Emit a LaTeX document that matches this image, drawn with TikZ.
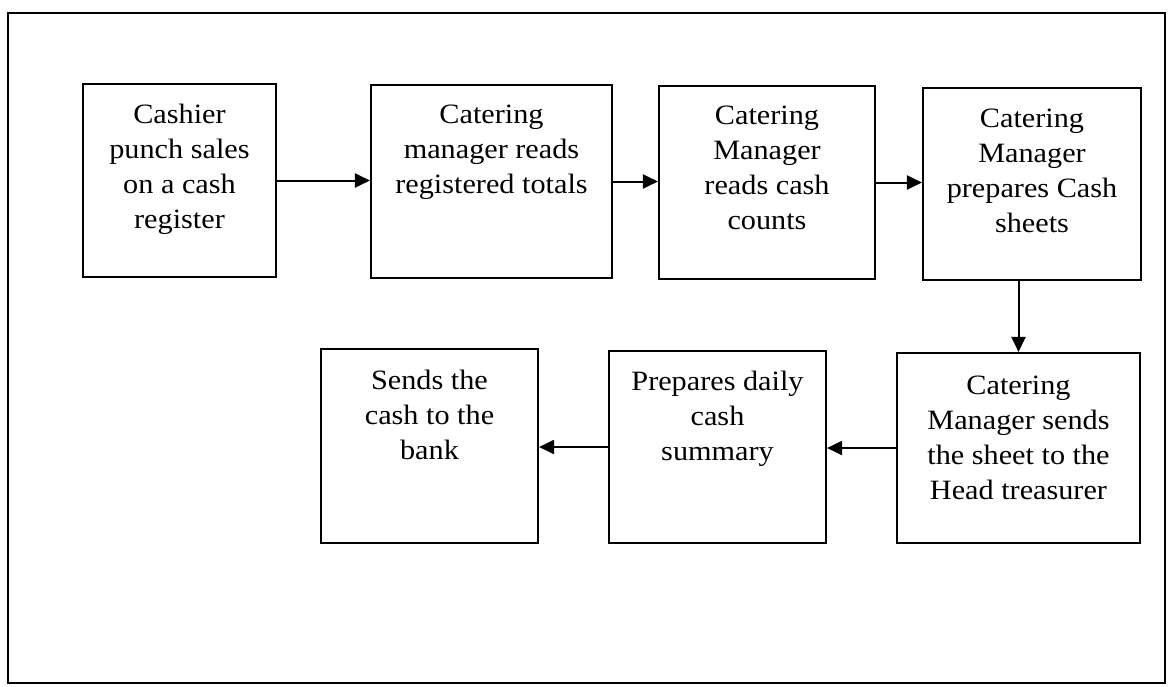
\documentclass[tikz,border=0pt]{standalone}
\usepackage{fontspec}
\setmainfont{Liberation Serif}
\usepackage{graphicx}
\usetikzlibrary{arrows.meta}
\newcommand{\boxtext}[1]{\scalebox{1.08}[1]{\fontsize{28}{35}\selectfont\begin{tabular}{@{}c@{}}#1\end{tabular}}}
\tikzset{
  stepbox/.style={draw=black, line width=2.1pt, rectangle, inner sep=0pt},
  boxlabel/.style={anchor=north, inner sep=0pt, text=black},
  flow/.style={line width=2pt, -{Triangle[length=15pt,width=14pt]}},
  frameline/.style={draw=black, line width=2pt}
}
\begin{document}
\begin{tikzpicture}[x=1pt,y=-1pt]
\useasboundingbox (0,0) rectangle (1172,686);
\draw[frameline] (8,13) rectangle (1165,683);

\node[stepbox, minimum width=193pt, minimum height=193pt] (b1) at (179.5,180.5) {};
\node[stepbox, minimum width=241pt, minimum height=193pt] (b2) at (491.5,181.5) {};
\node[stepbox, minimum width=216pt, minimum height=193pt] (b3) at (767,182.5) {};
\node[stepbox, minimum width=218pt, minimum height=192pt] (b4) at (1032,184) {};
\node[stepbox, minimum width=243pt, minimum height=190pt] (b5) at (1018.5,448) {};
\node[stepbox, minimum width=217pt, minimum height=192pt] (b6) at (717.5,447) {};
\node[stepbox, minimum width=217pt, minimum height=194pt] (b7) at (429.5,446) {};

\node[boxlabel, yshift=-15.5pt] (t1) at (b1.north) {\boxtext{Cashier\\punch sales\\on a cash\\register}};
\node[boxlabel, yshift=-14.5pt] (t2) at (b2.north) {\boxtext{Catering\\manager reads\\registered totals}};
\node[boxlabel, yshift=-15pt] (t3) at (b3.north) {\boxtext{Catering\\Manager\\reads cash\\counts}};
\node[boxlabel, yshift=-16pt] (t4) at (b4.north) {\boxtext{Catering\\Manager\\prepares Cash\\sheets}};
\node[boxlabel, yshift=-18pt] (t5) at (b5.north) {\boxtext{Catering\\Manager sends\\the sheet to the\\Head treasurer}};
\node[boxlabel, yshift=-16pt] (t6) at (b6.north) {\boxtext{Prepares daily\\cash\\summary}};
\node[boxlabel, yshift=-16.5pt] (t7) at (b7.north) {\boxtext{Sends the\\cash to the\\bank}};

\draw[flow] (b1.east) -- (b1.east -| b2.west);
\draw[flow] (b2.east) -- (b2.east -| b3.west);
\draw[flow] (b3.east) -- (b3.east -| b4.west);
\draw[flow] (b4.south -| b5.north) -- (b5.north);
\draw[flow] (b5.west) -- (b5.west -| b6.east);
\draw[flow] (b6.west) -- (b6.west -| b7.east);
\end{tikzpicture}
\end{document}
